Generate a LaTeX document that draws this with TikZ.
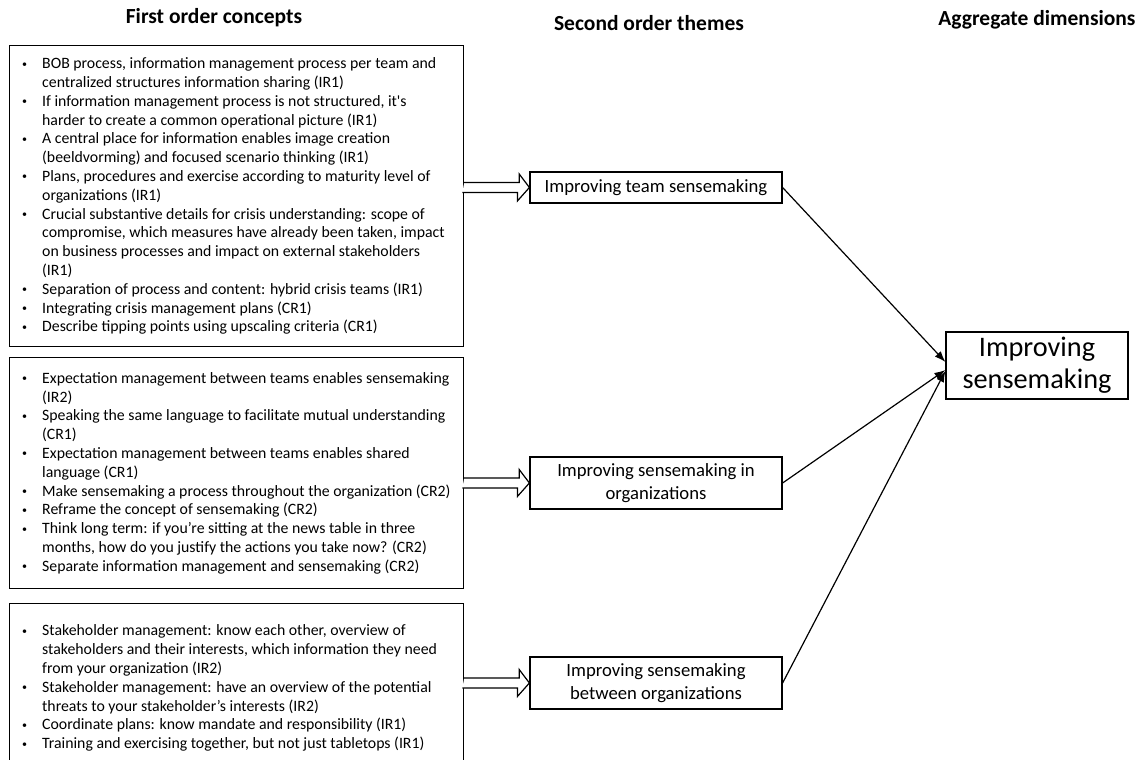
\documentclass[tikz,border=0pt]{standalone}
\usepackage{fontspec}
\setmainfont{Carlito}
\usetikzlibrary{arrows.meta,calc}

% bullet and continuation-line indents for the concept lists
\newcommand\bpt{\makebox[23pt][l]{\hspace*{3pt}\raisebox{1.6pt}{\fontsize{10}{10}\selectfont\textbullet}}}
\newcommand\bcont{\hspace*{23pt}}

\tikzset{
  concept/.style={draw, line width=1.2pt, anchor=north west, minimum width=454pt, inner sep=0pt},
  bullets/.style={anchor=west, align=left, inner sep=0pt, font=\fontsize{15.8}{18.8}\selectfont},
  theme/.style={draw, line width=1.2pt, minimum width=252pt, inner sep=0pt, align=center,
                font=\fontsize{18.67}{22.8}\selectfont},
  aggregate/.style={draw, line width=1.2pt, minimum width=182pt, minimum height=67pt, inner sep=0pt,
                align=center, font=\fontsize{28.3}{32}\selectfont},
  header/.style={inner sep=0pt, font=\fontsize{21.5}{24}\selectfont\bfseries},
  feed/.style={draw, line width=1.2pt, fill=white, line join=miter},
  link/.style={line width=1.2pt, -{Latex[length=11pt,width=8pt]}}
}

\begin{document}
\begin{tikzpicture}[x=1pt, y=-1pt]
\useasboundingbox (0,0) rectangle (1144,760);
\clip (0,0) rectangle (1144,760);

% column headers
\node[header] (h1) at (214,18) {First order concepts};
\node[header] (h2) at (649,23) {Second order themes};
\node[header] (h3) at (1037,20) {Aggregate dimensions};

% first order concept boxes
\node[concept, minimum height=301pt] (b1) at (9,45) {};
\node[bullets] (l1) at ($(b1.west)+(10,0)$) {%
\bpt BOB process, information management process per team and\\
\bcont centralized structures information sharing (IR1)\\
\bpt If information management process is not structured, it\textquotesingle s\\
\bcont harder to create a common operational picture (IR1)\\
\bpt A central place for information enables image creation\\
\bcont (beeldvorming) and focused scenario thinking (IR1)\\
\bpt Plans, procedures and exercise according to maturity level of\\
\bcont organizations (IR1)\\
\bpt Crucial substantive details for crisis understanding: scope of\\
\bcont compromise, which measures have already been taken, impact\\
\bcont on business processes and impact on external stakeholders\\
\bcont (IR1)\\
\bpt Separation of process and content: hybrid crisis teams (IR1)\\
\bpt Integrating crisis management plans (CR1)\\
\bpt Describe tipping points using upscaling criteria (CR1)};

\node[concept, minimum height=231pt] (b2) at (9,357) {};
\node[bullets] (l2) at ($(b2.west)+(10,0)$) {%
\bpt Expectation management between teams enables sensemaking\\
\bcont (IR2)\\
\bpt Speaking the same language to facilitate mutual understanding\\
\bcont (CR1)\\
\bpt Expectation management between teams enables shared\\
\bcont language (CR1)\\
\bpt Make sensemaking a process throughout the organization (CR2)\\
\bpt Reframe the concept of sensemaking (CR2)\\
\bpt Think long term: if you’re sitting at the news table in three\\
\bcont months, how do you justify the actions you take now? (CR2)\\
\bpt Separate information management and sensemaking (CR2)};

\node[concept, minimum height=169pt] (b3) at (9,603) {};
\node[bullets] (l3) at ($(b3.west)+(10,0)$) {%
\bpt Stakeholder management: know each other, overview of\\
\bcont stakeholders and their interests, which information they need\\
\bcont from your organization (IR2)\\
\bpt Stakeholder management: have an overview of the potential\\
\bcont threats to your stakeholder’s interests (IR2)\\
\bpt Coordinate plans: know mandate and responsibility (IR1)\\
\bpt Training and exercising together, but not just tabletops (IR1)};

% second order themes
\node[theme, minimum height=31pt] (t1) at (656,187.5) {Improving team sensemaking};
\node[theme, minimum height=52pt] (t2) at (656,483) {Improving sensemaking in\\organizations};
\node[theme, minimum height=52pt] (t3) at (656,683) {Improving sensemaking\\between organizations};

% aggregate dimension
\node[aggregate] (agg) at (1037,365.5) {Improving\\sensemaking};

% block arrows from concept boxes to themes
\foreach \b/\t in {b1/t1, b2/t2, b3/t3}{
  \draw[feed] (\b.east |- \t.west) ++(0,-5) -- ++(55,0) -- ++(0,-8.5) -- (\t.west)
      -- ++(-12,13.5) -- ++(0,-8.5) -- ++(-55,0);
}

% links from themes to the aggregate dimension
\draw[link] (t1.east) -- ($(agg.west)+(0,-3.5)$);
\draw[link] (t2.east) -- ($(agg.west)+(0,4.5)$);
\draw[link] (t3.east) -- ($(agg.west)+(0,5.5)$);
\end{tikzpicture}
\end{document}
